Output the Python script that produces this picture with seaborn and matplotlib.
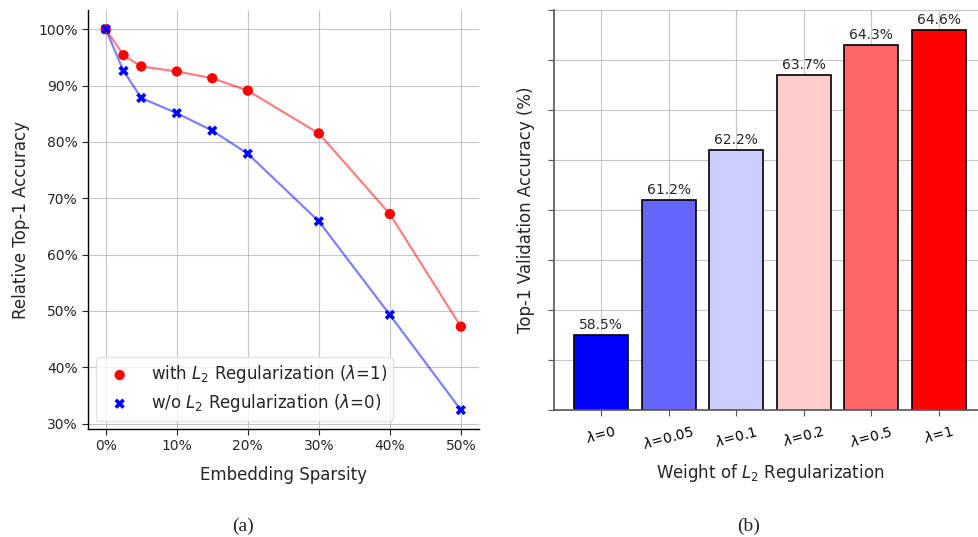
import matplotlib
matplotlib.use("Agg")
import matplotlib.pyplot as plt
import seaborn as sns
import pandas as pd
import numpy as np
from matplotlib.ticker import FuncFormatter

sparsity = [0, 2.5, 5, 10, 15, 20, 30, 40, 50]
acc_with_l2 = [100, 95.4, 93.4, 92.5, 91.3, 89.1, 81.5, 67.2, 47.2]
acc_without_l2 = [100, 92.6, 87.8, 85.1, 82.0, 77.9, 65.9, 49.3, 32.4]
x_ticks = [0, 10, 20, 30, 40, 50]
y_ticks = [30, 40, 50, 60, 70, 80, 90, 100]

lambdas = [r"$\lambda$=0", r"$\lambda$=0.05", r"$\lambda$=0.1", r"$\lambda$=0.2", r"$\lambda$=0.5", r"$\lambda$=1"]
val_acc = [58.5, 61.2, 62.2, 63.7, 64.3, 64.6]
bar_colors = ["#0000ff", "#6666ff", "#ccccff", "#ffcccc", "#ff6666", "#ff0000"]

sns.set_style("white")
plt.rcParams["font.family"] = ["DejaVu Sans"]
plt.rcParams["mathtext.fontset"] = "dejavusans"

fig = plt.figure(figsize=(9.79, 5.37), dpi=100)
ax1 = fig.add_axes([0.0899, 0.201, 0.399, 0.780])
ax2 = fig.add_axes([0.566, 0.2365, 0.441, 0.745])

# ---- panel (a)
df = pd.DataFrame({"s": sparsity, "w": acc_with_l2, "wo": acc_without_l2})
sns.lineplot(data=df, x="s", y="w", ax=ax1, color="red", alpha=0.5, lw=1.6, zorder=2)
sns.lineplot(data=df, x="s", y="wo", ax=ax1, color="blue", alpha=0.5, lw=1.6, zorder=2)
sns.scatterplot(data=df, x="s", y="w", ax=ax1, color="red", marker="o", s=55,
                edgecolor="none", zorder=3,
                label=r"with $L_2$ Regularization ($\lambda$=1)")
sns.scatterplot(data=df, x="s", y="wo", ax=ax1, color="blue", marker="X", s=55,
                edgecolor="none", zorder=3,
                label=r"w/o $L_2$ Regularization ($\lambda$=0)")
ax1.set_xticks(x_ticks)
ax1.set_yticks(y_ticks)
ax1.xaxis.set_major_formatter(FuncFormatter(lambda v, p: f"{v:.0f}%"))
ax1.yaxis.set_major_formatter(FuncFormatter(lambda v, p: f"{v:.0f}%"))
ax1.grid(True, color="#b0b0b0", lw=0.8, alpha=0.7)
ax1.set_axisbelow(True)
ax1.set_xlabel("Embedding Sparsity", fontsize=12, labelpad=9)
ax1.set_ylabel("Relative Top-1 Accuracy", fontsize=12, labelpad=6)
ax1.tick_params(axis="both", labelsize=10, length=4, width=0.8, direction="out",
                bottom=True, left=True)
for sp in ["top", "right"]:
    ax1.spines[sp].set_visible(False)
for sp in ["left", "bottom"]:
    ax1.spines[sp].set_color("black")
    ax1.spines[sp].set_linewidth(1.0)
leg = ax1.legend(loc="lower left", fontsize=12, frameon=True, handletextpad=0.85,
                 borderpad=0.4, labelspacing=0.4, markerscale=1.0)
leg.get_frame().set_edgecolor("#dddddd")

# ---- panel (b)
bdf = pd.DataFrame({"lam": lambdas, "acc": val_acc})
sns.barplot(data=bdf, x="lam", y="acc", hue="lam", palette=bar_colors, ax=ax2,
            edgecolor="black", linewidth=1.2, width=0.8, legend=False, zorder=2,
            saturation=1)
ax2.set_ylim(57, 65)
ax2.set_xlim(-0.7, 5.7)
ax2.set_yticks(np.arange(57, 65.1, 1))
ax2.set_yticklabels([])
for p, v in zip(ax2.patches, val_acc):
    ax2.text(p.get_x() + p.get_width() / 2, v + 0.06, f"{v}%", ha="center",
             va="bottom", fontsize=10)
ax2.grid(True, color="#b0b0b0", lw=0.8, alpha=0.7)
ax2.set_axisbelow(True)
ax2.set_xlabel(r"Weight of $L_2$ Regularization", fontsize=12, labelpad=7)
ax2.set_ylabel("Top-1 Validation Accuracy (%)", fontsize=12, labelpad=6)
ax2.tick_params(axis="x", labelsize=10, length=4, width=0.8, rotation=15,
                bottom=True, colors="#555555", labelcolor="black", pad=6)
ax2.tick_params(axis="y", length=4, width=0.8, left=True, colors="#555555")
for sp in ["top", "right"]:
    ax2.spines[sp].set_visible(False)
for sp in ["left", "bottom"]:
    ax2.spines[sp].set_color("#555555")
    ax2.spines[sp].set_linewidth(1.2)

fig.text(0.248, 0.012, "(a)", fontsize=14, family="Liberation Serif", ha="center")
fig.text(0.765, 0.012, "(b)", fontsize=14, family="Liberation Serif", ha="center")

fig.savefig("out.png", dpi=100)
